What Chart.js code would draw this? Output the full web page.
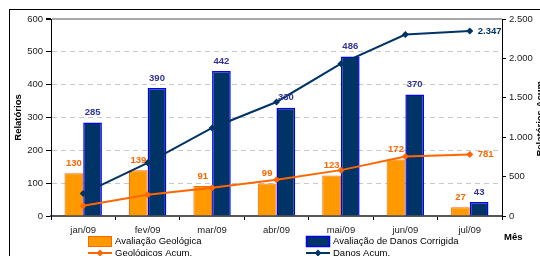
<!DOCTYPE html>
<html>
<head>
<meta charset="utf-8">
<script src="https://cdn.jsdelivr.net/npm/chart.js@4"></script>
<style>
  html, body { margin: 0; padding: 0; background: #fff; }
  #wrap { width: 540px; height: 256px; position: relative; }
</style>
</head>
<body>
<div id="wrap"><canvas id="myChart" width="540" height="256"></canvas></div>
<script>
// data
var months = ['jan/09', 'fev/09', 'mar/09', 'abr/09', 'mai/09', 'jun/09', 'jul/09'];
var geologica = [130, 139, 91, 99, 123, 172, 27];
var danos = [285, 390, 442, 330, 486, 370, 43];
var geologicosAcum = [130, 269, 360, 459, 582, 754, 781];
var danosAcum = [285, 675, 1117, 1447, 1933, 2303, 2347];

var FONT = '"Liberation Sans", Arial, sans-serif';
var ORANGE = '#FF9900', ORANGE_DARK = '#FF6600';
var NAVY = '#003366', BLUE = '#0000FF', LABEL_BLUE = '#333399';

function fmt(v) {
    return String(v).replace(/\B(?=(\d{3})+(?!\d))/g, '.');
}

function diamond(ctx, x, y, r) {
    ctx.beginPath();
    ctx.moveTo(x, y - r);
    ctx.lineTo(x + r, y);
    ctx.lineTo(x, y + r);
    ctx.lineTo(x - r, y);
    ctx.closePath();
    ctx.fill();
}

// frame, titles, legend, value labels
var extras = {
    id: 'extras',
    beforeDraw: function (chart) {
        var ctx = chart.ctx;
        ctx.save();
        ctx.strokeStyle = '#000';
        ctx.lineWidth = 1;
        ctx.strokeRect(9.5, 9.5, 700, 400);
        ctx.restore();
    },
    afterDatasetsDraw: function (chart) {
        var ctx = chart.ctx;
        ctx.save();
        ctx.font = 'bold 9.5px ' + FONT;
        ctx.textAlign = 'center';
        ctx.textBaseline = 'middle';
        var colors = [ORANGE_DARK, LABEL_BLUE];
        [0, 1].forEach(function (i) {
            var meta = chart.getDatasetMeta(i);
            ctx.fillStyle = colors[i];
            meta.data.forEach(function (bar, j) {
                ctx.fillText(fmt(chart.data.datasets[i].data[j]), bar.x, bar.y - 10);
            });
        });
        ctx.textAlign = 'left';
        var g = chart.getDatasetMeta(2).data;
        var last = g[g.length - 1];
        ctx.fillStyle = ORANGE_DARK;
        ctx.fillText(fmt(geologicosAcum[geologicosAcum.length - 1]), last.x + 8, last.y);
        var d = chart.getDatasetMeta(3).data;
        last = d[d.length - 1];
        ctx.fillStyle = NAVY;
        ctx.fillText(fmt(danosAcum[danosAcum.length - 1]), last.x + 8, last.y);
        ctx.restore();
    },
    afterDraw: function (chart) {
        var ctx = chart.ctx;
        var area = chart.chartArea;
        var midY = (area.top + area.bottom) / 2;
        ctx.save();
        ctx.fillStyle = '#000';
        ctx.font = 'bold 9.5px ' + FONT;
        ctx.textAlign = 'center';
        ctx.textBaseline = 'middle';
        ctx.translate(18, midY);
        ctx.rotate(-Math.PI / 2);
        ctx.fillText('Relatórios', 0, 0);
        ctx.restore();

        ctx.save();
        ctx.fillStyle = '#000';
        ctx.font = 'bold 9.5px ' + FONT;
        ctx.textAlign = 'center';
        ctx.textBaseline = 'middle';
        ctx.translate(540, midY);
        ctx.rotate(-Math.PI / 2);
        ctx.fillText('Relatórios Acum.', 0, 0);
        ctx.restore();

        ctx.save();
        ctx.fillStyle = '#000';
        ctx.font = 'bold 9.5px ' + FONT;
        ctx.textBaseline = 'middle';
        ctx.fillText('Mês', 504, 237);

        // legend
        ctx.font = '9.5px ' + FONT;
        ctx.lineWidth = 1;
        ctx.fillStyle = ORANGE;
        ctx.fillRect(88, 236, 23, 10);
        ctx.strokeStyle = ORANGE_DARK;
        ctx.strokeRect(88.5, 236.5, 23, 10);
        ctx.fillStyle = NAVY;
        ctx.fillRect(306, 236, 23, 10);
        ctx.strokeStyle = BLUE;
        ctx.lineWidth = 1.5;
        ctx.strokeRect(306.5, 236.5, 23, 10);

        ctx.lineWidth = 2;
        ctx.strokeStyle = ORANGE_DARK;
        ctx.beginPath(); ctx.moveTo(88, 253); ctx.lineTo(112, 253); ctx.stroke();
        ctx.fillStyle = ORANGE_DARK;
        diamond(ctx, 100, 253, 3.5);
        ctx.strokeStyle = NAVY;
        ctx.beginPath(); ctx.moveTo(306, 253); ctx.lineTo(330, 253); ctx.stroke();
        ctx.fillStyle = NAVY;
        diamond(ctx, 318, 253, 3.5);

        ctx.fillStyle = '#000';
        ctx.fillText('Avaliação Geológica', 115, 241);
        ctx.fillText('Avaliação de Danos Corrigida', 333, 241);
        ctx.fillText('Geológicos Acum.', 115, 253);
        ctx.fillText('Danos Acum.', 333, 253);
        ctx.restore();
    }
};

var ctx = document.getElementById('myChart').getContext('2d');
window.myChart = new Chart(ctx, {
    type: 'bar',
    data: {
        labels: months,
        datasets: [{
            label: 'Avaliação Geológica',
            data: geologica,
            backgroundColor: ORANGE,
            borderColor: ORANGE_DARK,
            borderWidth: 1,
            yAxisID: 'y',
            order: 2
        }, {
            label: 'Avaliação de Danos Corrigida',
            data: danos,
            backgroundColor: NAVY,
            borderColor: BLUE,
            borderWidth: 1.5,
            yAxisID: 'y',
            order: 2
        }, {
            type: 'line',
            label: 'Geológicos Acum.',
            data: geologicosAcum,
            borderColor: ORANGE_DARK,
            backgroundColor: ORANGE_DARK,
            borderWidth: 2,
            pointStyle: 'rectRot',
            pointRadius: 3.5,
            pointBorderWidth: 0,
            tension: 0,
            yAxisID: 'y1',
            order: 1
        }, {
            type: 'line',
            label: 'Danos Acum.',
            data: danosAcum,
            borderColor: NAVY,
            backgroundColor: NAVY,
            borderWidth: 2,
            pointStyle: 'rectRot',
            pointRadius: 3.5,
            pointBorderWidth: 0,
            tension: 0,
            yAxisID: 'y1',
            order: 0
        }]
    },
    options: {
        responsive: false,
        animation: false,
        layout: { autoPadding: false, padding: { top: 19, left: 0, right: 0, bottom: 0 } },
        datasets: { bar: { categoryPercentage: 0.58, barPercentage: 1 } },
        plugins: { legend: { display: false }, tooltip: { enabled: false } },
        scales: {
            x: {
                afterFit: function (s) { s.height = 40; },
                grid: {
                    offset: true,
                    drawOnChartArea: false,
                    tickLength: 4,
                    tickColor: '#000'
                },
                border: { color: '#555', width: 2 },
                ticks: { color: '#222', font: { family: FONT, size: 9.5 }, padding: 5, maxRotation: 0 }
            },
            y: {
                position: 'left',
                min: 0, max: 600,
                afterFit: function (s) { s.width = 51; },
                ticks: { stepSize: 100, color: '#222', font: { family: FONT, size: 9.5 }, padding: 3 },
                grid: {
                    color: function (c) {
                        if (!c.tick) return '#c0c0c0';
                        if (c.tick.value === 0) return 'rgba(0,0,0,0)';
                        return c.tick.value === 600 ? '#a8a8a8' : '#c8c8c8';
                    },
                    lineWidth: function (c) { return c.tick && c.tick.value === 600 ? 2 : 1; },
                    tickColor: '#000',
                    tickLength: 5
                },
                border: {
                    color: '#000', width: 1,
                    dash: function (c) { return c.tick && c.tick.value !== 600 ? [5, 4] : []; }
                }
            },
            y1: {
                position: 'right',
                min: 0, max: 2500,
                afterFit: function (s) { s.width = 38; },
                ticks: {
                    stepSize: 500, color: '#222', font: { family: FONT, size: 9.5 }, padding: 3,
                    callback: function (v) { return fmt(v); }
                },
                grid: { drawOnChartArea: false, tickColor: '#000', tickLength: 4 },
                border: { color: '#000', width: 1 }
            }
        }
    },
    plugins: [extras]
});
</script>
</body>
</html>
